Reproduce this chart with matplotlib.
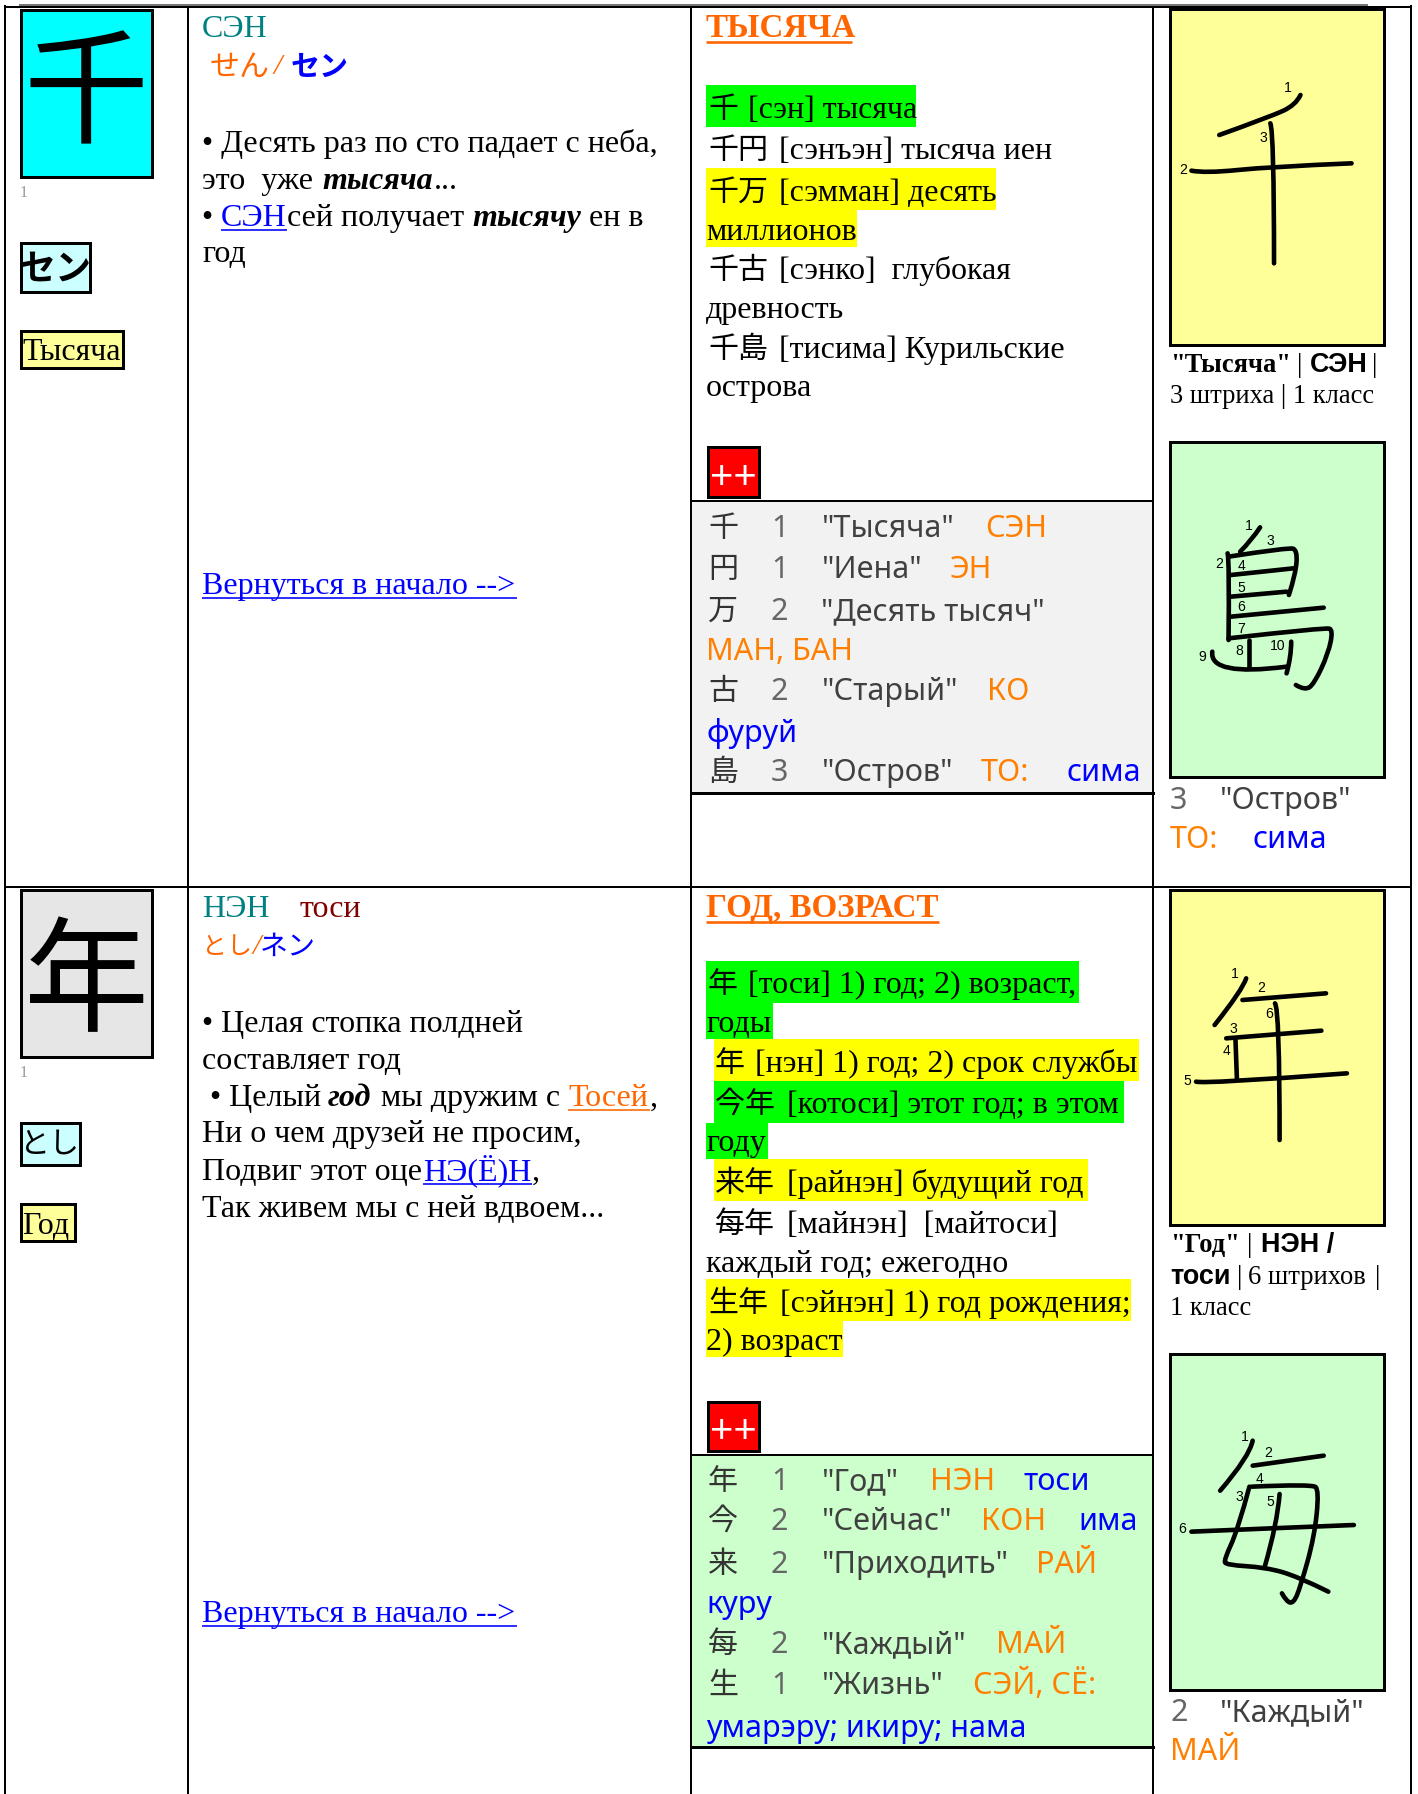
import matplotlib
matplotlib.use('Agg')
import matplotlib.pyplot as plt
from matplotlib.patches import Rectangle, PathPatch
from matplotlib.path import Path

# тексты карточек
big_kanji = ['千', '年']
kana_box = ['セン', 'とし']
meaning_box = ['Тысяча', 'Год']
readings_ru = ['СЭН', 'НЭН', 'тоси']
headers = ['ТЫСЯЧА', 'ГОД, ВОЗРАСТ']
back_link = 'Вернуться в начало -->'

mnemo1 = ['• Десять раз по сто падает с неба,', 'это  уже ', 'тысяча', '...',
          '• ', 'СЭН', 'сей получает ', 'тысячу', 'ен в', 'год']
mnemo2 = ['• Целая стопка полдней', 'составляет год', '• Целый ', 'год', 'мы дружим с', 'Тосей', ',',
          'Ни о чем друзей не просим,', 'Подвиг этот оце', 'НЭ(Ё)Н', ',', 'Так живем мы с ней вдвоем...']

words1_cjk = ['千', '千円', '千万', '千古', '千島']
words1_txt = ['[сэн] тысяча', '[сэнъэн] тысяча иен', '[сэмман] десять', 'миллионов',
              '[сэнко]  глубокая', 'древность', '[тисима] Курильские', 'острова']
words2_cjk = ['年', '年', '今年', '来年', '每年', '生年']
words2_txt = ['[тоси] 1) год; 2) возраст,', 'годы', '[нэн] 1) год; 2) срок службы', '[котоси] этот год; в этом',
              'году', '[райнэн] будущий год', '[майнэн]  [майтоси]', 'каждый год; ежегодно',
              '[сэйнэн] 1) год рождения;', '2) возраст']

panel1_kanji = ['千', '円', '万', '古', '島']
panel1_grade = ['1', '1', '2', '2', '3']
panel1_mean = ['"Тысяча"', '"Иена"', '"Десять тысяч"', '"Старый"', '"Остров"']
panel1_on = ['СЭН', 'ЭН', 'МАН, БАН', 'КО', 'ТО:']
panel1_kun = ['фуруй', 'сима']

panel2_kanji = ['年', '今', '来', '每', '生']
panel2_grade = ['1', '2', '2', '2', '1']
panel2_mean = ['"Год"', '"Сейчас"', '"Приходить"', '"Каждый"', '"Жизнь"']
panel2_on = ['НЭН', 'КОН', 'РАЙ', 'МАЙ', 'СЭЙ, СЁ:']
panel2_kun = ['тоси', 'има', 'куру', 'умарэру; икиру; нама']

# штрихи иероглифов (пиксели кропа)
strokes_sen = [[(1315, 285), (1305, 315), (1250, 350), (1140, 405)],
               [(1080, 512), (1110, 520), (1250, 500), (1425, 490)],
               [(1250, 370), (1258, 395), (1258, 790)]]
nums_sen = [(1288, 263), (1062, 510), (1236, 413)]
strokes_shima = [[(1228, 262), (1210, 300), (1185, 335)],
                 [(1158, 340), (1162, 360), (1160, 600)],
                 [(1160, 350), (1290, 322), (1308, 330), (1305, 400), (1290, 465)],
                 [(1165, 405), (1300, 385)],
                 [(1165, 470), (1285, 455)],
                 [(1165, 530), (1365, 503)],
                 [(1160, 595), (1370, 562), (1385, 570), (1375, 640), (1345, 730), (1325, 752), (1305, 735)],
                 [(1205, 600), (1205, 680)],
                 [(1125, 635), (1118, 710), (1285, 680)],
                 [(1295, 605), (1295, 650), (1285, 700)]]
nums_shima = [(1203, 258), (1139, 373), (1251, 302), (1188, 378), (1188, 445),
              (1188, 502), (1188, 568), (1183, 632), (1103, 650), (1265, 617)]
strokes_nen = [[(1198, 295), (1190, 330), (1130, 435)],
               [(1190, 360), (1370, 340)],
               [(1155, 475), (1360, 452)],
               [(1175, 480), (1178, 595)],
               [(1090, 605), (1110, 612), (1415, 580)],
               [(1260, 370), (1270, 385), (1270, 780)]]
nums_nen = [(1174, 282), (1230, 325), (1171, 447), (1156, 514), (1072, 602), (1247, 402)]
strokes_mai = [[(1212, 272), (1205, 320), (1142, 422)],
               [(1212, 347), (1365, 317)],
               [(1205, 410), (1180, 540), (1150, 630), (1155, 645), (1240, 652), (1310, 680), (1375, 725)],
               [(1210, 410), (1340, 402), (1355, 420), (1345, 560), (1315, 710), (1300, 760), (1285, 755), (1275, 730)],
               [(1270, 432), (1265, 520), (1238, 650)],
               [(1080, 545), (1250, 535), (1430, 525)]]
nums_mai = [(1195, 262), (1246, 310), (1184, 442), (1227, 388), (1251, 455), (1060, 538)]

SERIF = ['Liberation Serif', 'DejaVu Serif']
SANS = ['Noto Sans', 'DejaVu Sans']
BSANS = ['Liberation Sans', 'DejaVu Sans']
CJK = ['Noto Sans CJK JP', 'DejaVu Sans']
TEAL = '#008080'
ORANGE = '#FF6600'
ORANGE2 = '#FF8000'
BLUE = '#0000FF'
GREEN = '#00FF00'
YELLOW = '#FFFF00'
PALE_Y = '#FFFF99'
PALE_G = '#CCFFCC'
PALE_C = '#CCFFFF'
PX = 0.72  # пиксели в пункты при dpi=100

fig = plt.figure(figsize=(14.18, 17.94), dpi=100)
ax = fig.add_axes([0, 0, 1, 1])
ax.set_xlim(0, 1418)
ax.set_ylim(1794, 0)
ax.axis('off')


def txt(x, y, s, fam=SERIF, size=32, color='black', bold=False, italic=False, ha='left', va='baseline'):
    ax.text(x, y, s, family=fam, fontsize=size * PX, color=color, ha=ha, va=va,
            weight='bold' if bold else 'normal', style='italic' if italic else 'normal', zorder=5)


def box(x0, y0, x1, y1, fc, lw=2.5, ec='black', z=2):
    ax.add_patch(Rectangle((x0, y0), x1 - x0, y1 - y0, fc=fc, ec=ec, lw=lw * PX, zorder=z))


def fill(x0, y0, x1, y1, fc):
    ax.add_patch(Rectangle((x0, y0), x1 - x0, y1 - y0, fc=fc, ec='none', zorder=1))


def uline(x0, x1, y, color, w=1.6):
    ax.plot([x0, x1], [y, y], color=color, lw=w * PX, solid_capstyle='butt', zorder=5)


def draw_kanji(strokes, nums, oy):
    for st in strokes:
        pts = [(690 + p[0] / 2.154, oy + p[1] / 3) for p in st]
        # сглаживаем кривыми безье через середины отрезков
        verts = [pts[0]]
        codes = [Path.MOVETO]
        for i in range(1, len(pts) - 1):
            end = pts[i + 1] if i == len(pts) - 2 else ((pts[i][0] + pts[i + 1][0]) / 2, (pts[i][1] + pts[i + 1][1]) / 2)
            verts += [pts[i], end]
            codes += [Path.CURVE3, Path.CURVE3]
        if len(pts) == 2:
            verts.append(pts[1])
            codes.append(Path.LINETO)
        ax.add_patch(PathPatch(Path(verts, codes), fc='none', ec='black', lw=4.6 * PX, capstyle='round',
                               joinstyle='round', zorder=4))
    for i, p in enumerate(nums):
        txt(690 + p[0] / 2.154, oy + p[1] / 3, str(i + 1), fam=BSANS, size=14, ha='center', va='center')


# сетка таблицы
for x in [5, 188, 691, 1153, 1411]:
    ax.plot([x, x], [6, 1794], color='black', lw=2 * PX, zorder=3)
ax.plot([5, 1411], [7, 7], color='black', lw=2 * PX, zorder=3)
ax.plot([20, 1367], [5, 5], color='#777777', lw=2 * PX, zorder=3)
ax.plot([5, 1411], [887, 887], color='black', lw=2 * PX, zorder=3)

# левая колонка
box(21, 10, 152, 177, '#00FFFF', lw=3)
txt(86, 99, big_kanji[0], fam=CJK, size=125, ha='center', va='center')
txt(20, 197, '1', size=16, color='#999999')
box(21, 243, 90, 292, PALE_C, lw=3)
txt(55, 269, kana_box[0], fam=CJK, size=36, bold=True, ha='center', va='center')
box(21, 331, 123, 368, PALE_Y, lw=3)
txt(22, 360, meaning_box[0])

box(21, 890, 152, 1057, '#E6E6E6', lw=3)
txt(86, 987, big_kanji[1], fam=CJK, size=125, ha='center', va='center')
txt(20, 1077, '1', size=16, color='#999999')
box(21, 1123, 80, 1165, PALE_C, lw=3)
txt(50, 1144, kana_box[1], fam=CJK, size=30, ha='center', va='center')
box(21, 1204, 75, 1241, PALE_Y, lw=3)
txt(22, 1234, meaning_box[1])

# вторая колонка, первая карточка
txt(202, 37, readings_ru[0], color=TEAL)
txt(210, 67, 'せん', fam=CJK, size=30, color=ORANGE, va='center')
txt(273, 67, '/', size=30, color=ORANGE, italic=True, va='center')
txt(291, 67, 'セン', fam=CJK, size=29, color=BLUE, bold=True, va='center')
txt(202, 152, mnemo1[0])
txt(202, 189, mnemo1[1])
txt(322, 189, mnemo1[2], bold=True, italic=True)
txt(434, 189, mnemo1[3])
txt(202, 226, mnemo1[4])
txt(221, 226, mnemo1[5], color=BLUE)
uline(221, 287, 230, BLUE)
txt(287, 226, mnemo1[6])
txt(472, 226, mnemo1[7], bold=True, italic=True)
txt(589, 226, mnemo1[8])
txt(202, 262, mnemo1[9])
txt(202, 594, back_link, color=BLUE)
uline(202, 517, 598, BLUE)

# вторая колонка, вторая карточка
txt(202, 917, readings_ru[1], color=TEAL)
txt(300, 917, readings_ru[2], color='#800000')
txt(202, 947, 'とし', fam=CJK, size=25, color=ORANGE, va='center')
txt(252, 947, '/', size=30, color=ORANGE, italic=True, va='center')
txt(260, 947, 'ネン', fam=CJK, size=28, color=BLUE, va='center')
txt(202, 1032, mnemo2[0])
txt(202, 1069, mnemo2[1])
txt(210, 1106, mnemo2[2])
txt(328, 1106, mnemo2[3], bold=True, italic=True)
txt(381, 1106, mnemo2[4])
txt(568, 1106, mnemo2[5], color=ORANGE)
uline(568, 650, 1110, ORANGE)
txt(650, 1106, mnemo2[6])
txt(202, 1142, mnemo2[7])
txt(202, 1180, mnemo2[8])
txt(423, 1180, mnemo2[9], color=BLUE)
uline(423, 532, 1184, BLUE)
txt(532, 1180, mnemo2[10])
txt(202, 1217, mnemo2[11])
txt(202, 1622, back_link, color=BLUE)
uline(202, 517, 1626, BLUE)

# третья колонка, первая карточка
txt(706, 37, headers[0], color=ORANGE, bold=True, size=33)
uline(706, 852, 42, ORANGE, w=2.6)

fill(706, 85, 916, 127, GREEN)
fill(706, 168, 996, 210, YELLOW)
fill(706, 210, 857, 247, YELLOW)
txt(708, 118, words1_cjk[0], fam=CJK, size=30)
txt(748, 118, words1_txt[0])
txt(708, 159, words1_cjk[1], fam=CJK, size=30)
txt(779, 159, words1_txt[1])
txt(708, 201, words1_cjk[2], fam=CJK, size=30)
txt(779, 201, words1_txt[2])
txt(706, 240, words1_txt[3])
txt(708, 279, words1_cjk[3], fam=CJK, size=30)
txt(779, 279, words1_txt[4])
txt(706, 318, words1_txt[5])
txt(708, 358, words1_cjk[4], fam=CJK, size=30)
txt(779, 358, words1_txt[6])
txt(706, 396, words1_txt[7])

box(708, 447, 759, 497, '#FF0000', lw=3)
txt(733, 478, '++', fam=BSANS, size=40, color='white', ha='center', va='center')

ax.add_patch(Rectangle((691, 501), 462, 292, fc='#F2F2F2', ec='none', zorder=1))
ax.plot([691, 1153], [501, 501], color='black', lw=2 * PX, zorder=3)
ax.plot([691, 1153], [793, 793], color='black', lw=3 * PX, zorder=3)

DARK = '#404040'
GRADE = '#666666'
SZ = 30.5
ys1 = [537, 578, 620, 700, 781]
on_x1 = [985, 950, None, 987, 981]
for i in range(5):
    txt(708, ys1[i], panel1_kanji[i], fam=CJK, size=30, color='#333333')
    txt(771, ys1[i], panel1_grade[i], fam=SANS, size=SZ, color=GRADE)
    txt(821, ys1[i], panel1_mean[i], fam=SANS, size=SZ, color=DARK)
    if on_x1[i] is not None:
        txt(on_x1[i], ys1[i], panel1_on[i], fam=SANS, size=SZ, color=ORANGE2)
txt(706, 660, panel1_on[2], fam=SANS, size=SZ, color=ORANGE2)
txt(706, 742, panel1_kun[0], fam=SANS, size=SZ, color=BLUE)
txt(1067, 781, panel1_kun[1], fam=SANS, size=SZ, color=BLUE)

# третья колонка, вторая карточка
txt(706, 917, headers[1], color=ORANGE, bold=True, size=33)
uline(706, 939, 922, ORANGE, w=2.6)

fill(706, 961, 1079, 1003, GREEN)
fill(706, 1003, 773, 1039, GREEN)
fill(714, 1039, 1139, 1081, YELLOW)
fill(714, 1081, 1124, 1123, GREEN)
fill(706, 1123, 768, 1159, GREEN)
fill(714, 1159, 1088, 1201, YELLOW)
fill(706, 1279, 1131, 1321, YELLOW)
fill(706, 1321, 843, 1357, YELLOW)

txt(708, 993, words2_cjk[0], fam=CJK, size=30)
txt(748, 993, words2_txt[0])
txt(706, 1032, words2_txt[1])
txt(715, 1072, words2_cjk[1], fam=CJK, size=30)
txt(755, 1072, words2_txt[2])
txt(715, 1113, words2_cjk[2], fam=CJK, size=30)
txt(787, 1113, words2_txt[3])
txt(706, 1151, words2_txt[4])
txt(715, 1192, words2_cjk[3], fam=CJK, size=30)
txt(787, 1192, words2_txt[5])
txt(715, 1233, words2_cjk[4], fam=CJK, size=30)
txt(787, 1233, words2_txt[6])
txt(706, 1272, words2_txt[7])
txt(708, 1312, words2_cjk[5], fam=CJK, size=30)
txt(780, 1312, words2_txt[8])
txt(706, 1350, words2_txt[9])

box(708, 1402, 759, 1451, '#FF0000', lw=3)
txt(733, 1432, '++', fam=BSANS, size=40, color='white', ha='center', va='center')

ax.add_patch(Rectangle((691, 1455), 462, 292, fc=PALE_G, ec='none', zorder=1))
ax.plot([691, 1153], [1455, 1455], color='black', lw=2 * PX, zorder=3)
ax.plot([691, 1153], [1747, 1747], color='black', lw=3 * PX, zorder=3)

ys2 = [1490, 1530, 1573, 1653, 1694]
on_x2 = [930, 981, 1036, 996, 973]
for i in range(5):
    txt(708, ys2[i], panel2_kanji[i], fam=CJK, size=30, color='#333333')
    txt(771, ys2[i], panel2_grade[i], fam=SANS, size=SZ, color=GRADE)
    txt(821, ys2[i], panel2_mean[i], fam=SANS, size=SZ, color=DARK)
    txt(on_x2[i], ys2[i], panel2_on[i], fam=SANS, size=SZ, color=ORANGE2)
txt(1023, 1490, panel2_kun[0], fam=SANS, size=SZ, color=BLUE)
txt(1078, 1530, panel2_kun[1], fam=SANS, size=SZ, color=BLUE)
txt(706, 1613, panel2_kun[2], fam=SANS, size=SZ, color=BLUE)
txt(706, 1737, panel2_kun[3], fam=SANS, size=SZ, color=BLUE)

# четвертая колонка
box(1170, 9, 1384, 345, PALE_Y, lw=3)
draw_kanji(strokes_sen, nums_sen, 0)
txt(1170, 372, '"Тысяча"', size=26.5, bold=True)
txt(1297, 372, '|', size=26.5)
txt(1310, 372, readings_ru[0], fam=BSANS, size=27, bold=True)
txt(1372, 372, '|', size=26.5)
txt(1170, 403, '3 штриха | 1 класс', size=26.5)

box(1170, 442, 1384, 777, PALE_G, lw=3)
draw_kanji(strokes_shima, nums_shima, 440)
txt(1170, 809, panel1_grade[4], fam=SANS, size=SZ, color=GRADE)
txt(1219, 809, panel1_mean[4], fam=SANS, size=SZ, color=DARK)
txt(1170, 848, panel1_on[4], fam=SANS, size=SZ, color=ORANGE2)
txt(1253, 848, panel1_kun[1], fam=SANS, size=SZ, color=BLUE)

box(1170, 890, 1384, 1225, PALE_Y, lw=3)
draw_kanji(strokes_nen, nums_nen, 880)
txt(1170, 1252, '"Год"', size=26.5, bold=True)
txt(1247, 1252, '|', size=26.5)
txt(1261, 1252, 'НЭН /', fam=BSANS, size=27, bold=True)
txt(1170, 1284, readings_ru[2], fam=BSANS, size=27, bold=True)
txt(1237, 1284, '|', size=26.5)
txt(1248, 1284, '6 штрихов', size=26.5)
txt(1375, 1284, '|', size=26.5)
txt(1170, 1315, '1 класс', size=26.5)

box(1170, 1354, 1384, 1690, PALE_G, lw=3)
draw_kanji(strokes_mai, nums_mai, 1350)
txt(1170, 1721, panel2_grade[3], fam=SANS, size=SZ, color=GRADE)
txt(1219, 1721, panel2_mean[3], fam=SANS, size=SZ, color=DARK)
txt(1170, 1760, panel2_on[3], fam=SANS, size=SZ, color=ORANGE2)

fig.savefig('out.png', dpi=100, facecolor='white')
